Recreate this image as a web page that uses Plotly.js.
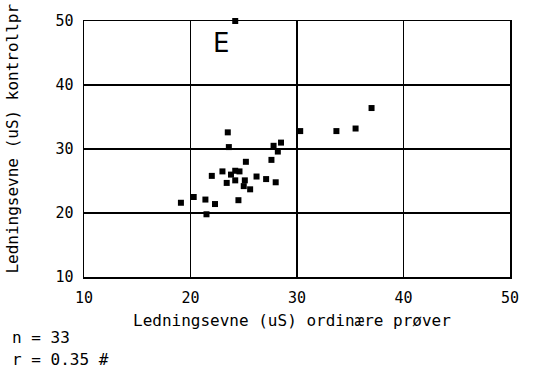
<!DOCTYPE html>
<html><head><meta charset="utf-8">
<script src="https://cdn.plot.ly/plotly-3.0.1.min.js"></script>
<style>body{margin:0;background:#fff}</style>
</head><body><div id="chart" style="width:536px;height:373px"></div>
<script>
const xOrdinary = [23.5,23.6,30.3,27.8,28.5,28.2,27.6,25.2,23.0,23.8,24.2,24.6,22.0,24.2,23.4,25.1,25.0,26.2,27.1,25.6,28.0,20.3,19.1,21.4,22.3,24.5,21.5,24.2,33.7,35.5,37.0];
const yControl  = [32.6,30.3,32.8,30.5,31.0,29.6,28.3,28.0,26.5,26.0,26.6,26.5,25.8,25.1,24.7,25.1,24.2,25.7,25.3,23.7,24.8,22.5,21.6,22.1,21.4,22.0,19.8,50.0,32.8,33.2,36.4];
const tickVals = [10,20,30,40,50];
const tickText = ["10","20","30","40","50"];
const panelLabel = "E";
const statN = "n = 33";
const statR = "r = 0.35 #";
const xTitle = "Ledningsevne (uS) ordinære prøver";
const yTitle = "Ledningsevne (uS) kontrollpr";

const mono = "DejaVu Sans Mono";
const tickFont = {family: mono, size: 15, color: "#000"};
const labFont = {family: mono, size: 16, color: "#000"};
const axisCommon = {
  range: [10, 50], tickvals: tickVals, ticktext: tickText,
  showgrid: true, gridcolor: "#000", gridwidth: 1.5,
  showline: true, linecolor: "#000", linewidth: 1.5, mirror: true,
  zeroline: false, ticks: "", tickfont: tickFont, ticklabelstandoff: 6
};
Plotly.newPlot("chart", [{
  x: xOrdinary, y: yControl, type: "scatter", mode: "markers",
  marker: {symbol: "square", size: 6, color: "#000"}, cliponaxis: false
}], {
  width: 536, height: 373,
  margin: {l: 84, r: 26, t: 21, b: 96},
  paper_bgcolor: "#fff", plot_bgcolor: "#fff",
  showlegend: false,
  font: labFont,
  xaxis: Object.assign({}, axisCommon),
  yaxis: Object.assign({}, axisCommon),
  annotations: [
    {text: xTitle, xref: "paper", yref: "paper", x: 0.488, y: -0.168, xanchor: "center", yanchor: "middle", showarrow: false, font: labFont},
    {text: yTitle, xref: "paper", yref: "paper", x: -0.17, y: 0.539, xanchor: "center", yanchor: "middle", textangle: -90, showarrow: false, font: labFont},
    {text: panelLabel, xref: "x", yref: "y", x: 22.9, y: 46.6, showarrow: false, font: {family: "DejaVu Sans", size: 26, color: "#000"}},
    {text: statN, xref: "paper", yref: "paper", x: -0.1745, y: -0.238, xanchor: "left", yanchor: "middle", showarrow: false, font: labFont},
    {text: statR, xref: "paper", yref: "paper", x: -0.1745, y: -0.324, xanchor: "left", yanchor: "middle", showarrow: false, font: labFont}
  ]
}, {staticPlot: true});
</script></body></html>
